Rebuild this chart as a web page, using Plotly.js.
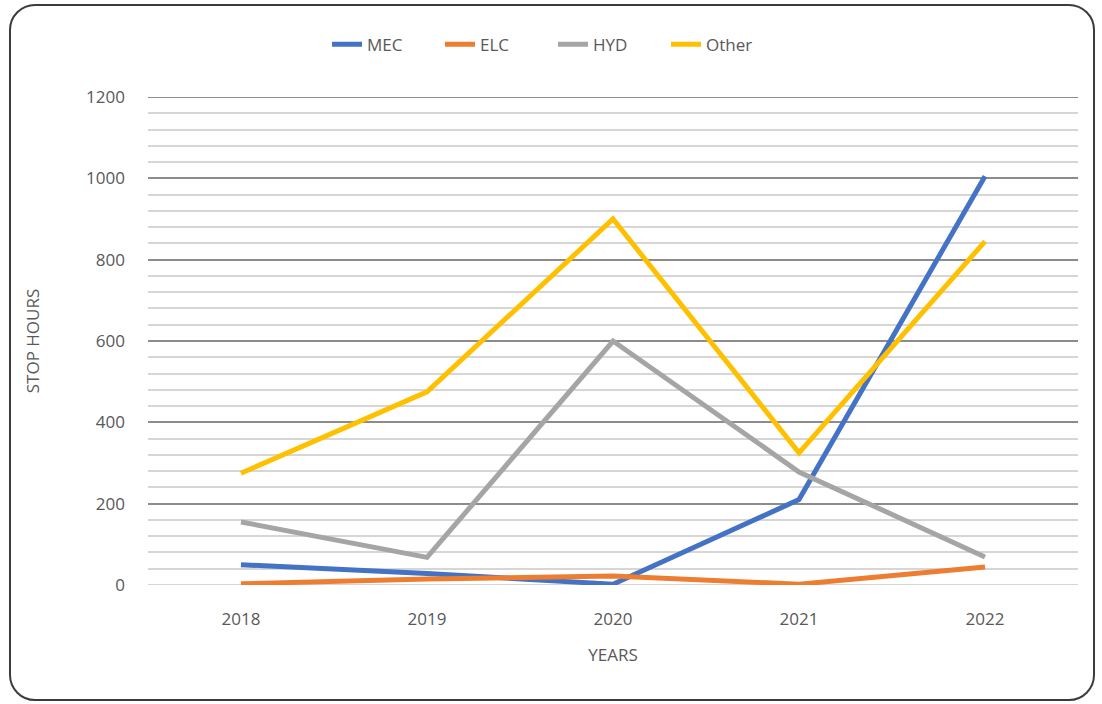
<!DOCTYPE html>
<html>
<head>
<meta charset="utf-8">
<script src="https://cdn.plot.ly/plotly-3.0.1.min.js"></script>
<style>
  html, body { margin: 0; padding: 0; background: #ffffff; }
  #wrap { position: relative; width: 1102px; height: 704px; }
  #chart { position: absolute; left: 0; top: 0; width: 1102px; height: 704px; }
  #frame { position: absolute; left: 9px; top: 4px; width: 1082px; height: 693px;
           border: 2.5px solid #3c3c3c; border-radius: 26px; pointer-events: none; }
</style>
</head>
<body>
<div id="wrap">
  <div id="chart"></div>
  <div id="frame"></div>
</div>
<script>
const years = ["2018", "2019", "2020", "2021", "2022"];
const mec   = [50, 28, 2, 210, 1005];
const elc   = [3, 15, 22, 2, 44];
const hyd   = [155, 68, 600, 278, 69];
const other = [275, 475, 900, 325, 845];

const seriesNames  = ["MEC", "ELC", "HYD", "Other"];
const seriesValues = [mec, elc, hyd, other];
const seriesColors = ["#4472C4", "#ED7D31", "#A5A5A5", "#FFC000"];

const yMin = 0, yMax = 1200;

const traces = seriesNames.map((n, i) => ({
  type: "scatter",
  mode: "lines",
  name: n,
  x: years,
  y: seriesValues[i],
  line: { color: seriesColors[i], width: 5 },
  hoverinfo: "x+y+name"
}));

const fontFam = "'Open Sans', 'Noto Sans', sans-serif";
const txt = "#595959";

const layout = {
  width: 1102,
  height: 704,
  margin: { l: 148, r: 24, t: 97, b: 119 },
  paper_bgcolor: "rgba(0,0,0,0)",
  plot_bgcolor: "#ffffff",
  font: { family: fontFam, size: 17, color: txt },
  showlegend: true,
  legend: {
    orientation: "h",
    x: 0.1925, xanchor: "left",
    y: 1.107, yanchor: "middle",
    font: { family: fontFam, size: 17, color: txt },
    entrywidth: 68,
    entrywidthmode: "pixels",
    tracegroupgap: 0
  },
  xaxis: {
    type: "category",
    range: [-0.5, 4.5],
    showgrid: false,
    zeroline: false,
    showline: false,
    ticks: "",
    ticklabelstandoff: 22,
    tickfont: { family: fontFam, size: 17, color: txt },
    title: { text: "YEARS", font: { family: fontFam, size: 17, color: txt }, standoff: 20 }
  },
  yaxis: {
    range: [yMin, yMax],
    dtick: 200,
    tick0: 0,
    showgrid: true,
    gridcolor: "#8c8c8c",
    gridwidth: 2,
    zeroline: false,
    showline: false,
    ticks: "",
    ticklabelstandoff: 22,
    tickfont: { family: fontFam, size: 17, color: txt },
    minor: { dtick: 40, tick0: 0, showgrid: true, gridcolor: "#d6d6d6", gridwidth: 2 },
    title: { text: "STOP HOURS", font: { family: fontFam, size: 17, color: txt }, standoff: 42 }
  },
  shapes: [
    { type: "line", xref: "paper", x0: 0, x1: 1, yref: "y", y0: yMax, y1: yMax,
      line: { color: "#8c8c8c", width: 2 }, layer: "below" },
    { type: "line", xref: "paper", x0: 0, x1: 1, yref: "y", y0: yMin, y1: yMin,
      line: { color: "#d6d6d6", width: 2 }, layer: "below" }
  ]
};

Plotly.newPlot("chart", traces, layout, { displayModeBar: false, staticPlot: true });
</script>
</body>
</html>
